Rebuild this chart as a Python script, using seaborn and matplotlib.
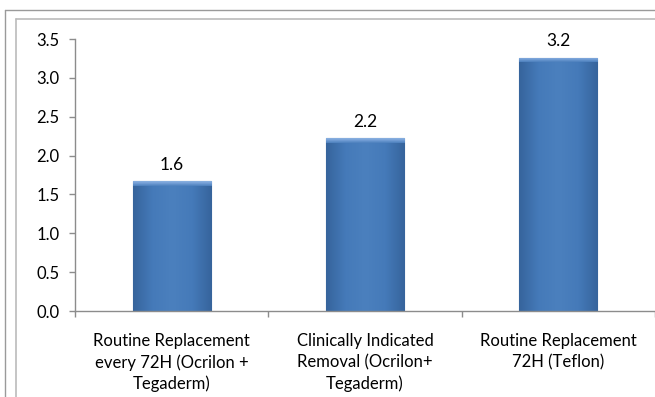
import matplotlib
matplotlib.use("Agg")
import matplotlib.pyplot as plt
import seaborn as sns
import numpy as np
import pandas as pd
from matplotlib.lines import Line2D
from matplotlib.colors import LinearSegmentedColormap

categories = [
    "Routine Replacement\nevery 72H (Ocrilon +\nTegaderm)",
    "Clinically Indicated\nRemoval (Ocrilon+\nTegaderm)",
    "Routine Replacement\n72H (Teflon)",
]
values = [1.67, 2.22, 3.26]
value_labels = ["1.6", "2.2", "3.2"]
yticks = [0.0, 0.5, 1.0, 1.5, 2.0, 2.5, 3.0, 3.5]

sns.set_theme(style="white")
plt.rcParams["font.family"] = ["Lato", "DejaVu Sans"]

fig = plt.figure(figsize=(6.55, 3.97), dpi=100)
W, H = 655, 397
ax = fig.add_axes([75 / W, 1 - 311 / H, 1 - 75 / W, (311 - 39) / H])

df = pd.DataFrame({"cat": categories, "val": values})
sns.barplot(data=df, x="cat", y="val", color="#4A7EBB", width=0.405,
            edgecolor="#3A669C", linewidth=0.8, saturation=1, ax=ax, zorder=2)

# gradient overlay on bars
cmap = LinearSegmentedColormap.from_list(
    "bar", ["#36649C", "#457AB9", "#4B80BE", "#457AB9", "#36649C"])
grad = np.linspace(0, 1, 256).reshape(1, -1)
for p in ax.patches:
    x0, y0 = p.get_x(), p.get_y()
    w, h = p.get_width(), p.get_height()
    im = ax.imshow(grad, cmap=cmap, extent=[x0, x0 + w, y0, y0 + h],
                   aspect="auto", zorder=2.1, interpolation="bicubic")
    im.set_clip_path(p)
    # top bevel
    bev = 0.06
    top = np.linspace(0, 1, 64).reshape(-1, 1)
    cm2 = LinearSegmentedColormap.from_list("bev", ["#4A7EBB", "#6F9BD3", "#8DB3E2"])
    im2 = ax.imshow(top, cmap=cm2, extent=[x0, x0 + w, y0 + h - bev, y0 + h],
                    aspect="auto", zorder=2.2, interpolation="bicubic", origin="lower")
    im2.set_clip_path(p)

ax.set_xlim(-0.5, 2.5)
ax.set_ylim(0, 3.5)
ax.set_yticks(yticks)
ax.set_yticklabels([f"{t:.1f}" for t in yticks])
ax.set_xlabel("")
ax.set_ylabel("")

for s in ["top", "right"]:
    ax.spines[s].set_visible(False)
for s in ["left", "bottom"]:
    ax.spines[s].set_color("#8C8C8C")
    ax.spines[s].set_linewidth(1.0)

ax.tick_params(axis="y", which="major", direction="out", length=4, width=1,
               color="#8C8C8C", labelsize=12, pad=7, labelcolor="#000000", left=True)
ax.tick_params(axis="x", which="major", length=0, labelsize=12, pad=16,
               labelcolor="#000000")
ax.set_xticks([-0.5, 0.5, 1.5, 2.5], minor=True)
ax.tick_params(axis="x", which="minor", direction="out", length=4, width=1,
               color="#8C8C8C", bottom=True)
for lbl in ax.get_xticklabels():
    lbl.set_linespacing(1.36)
    lbl.set_horizontalalignment("center")

for i, (v, t) in enumerate(zip(values, value_labels)):
    ax.annotate(t, xy=(i, v), xytext=(0, 6), textcoords="offset points",
                ha="center", va="bottom", fontsize=12.5, color="#000000")

ax.grid(False)

# outer chart frames
fig.add_artist(Line2D([5 / W, 1], [1 - 10 / H, 1 - 10 / H], color="#9A9A9A", lw=1.0))
fig.add_artist(Line2D([5 / W, 5 / W], [0, 1 - 10 / H], color="#9A9A9A", lw=1.0))
fig.add_artist(Line2D([16 / W, 1], [1 - 19 / H, 1 - 19 / H], color="#BBBBBB", lw=1.2))
fig.add_artist(Line2D([16 / W, 16 / W], [0, 1 - 19 / H], color="#BBBBBB", lw=1.2))

fig.savefig("out.png", dpi=100)
